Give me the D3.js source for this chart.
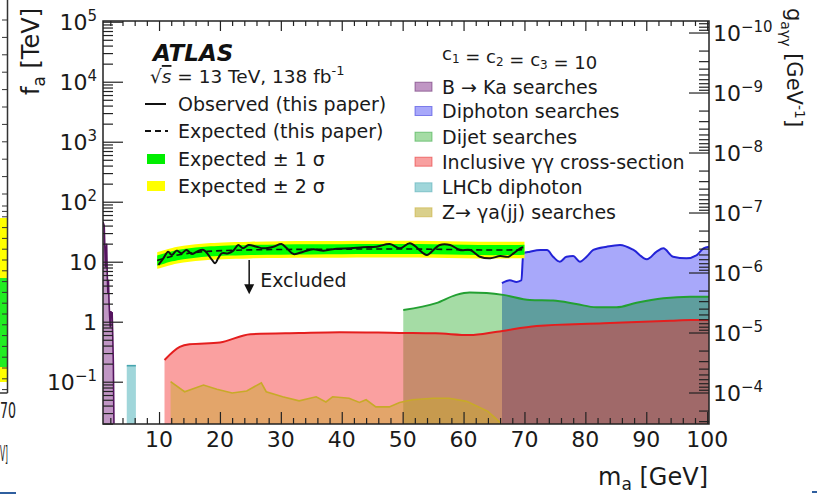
<!DOCTYPE html>
<html><head><meta charset="utf-8">
<script src="https://cdn.jsdelivr.net/npm/d3@7"></script>
<style>
html,body{margin:0;padding:0;background:#fff;}
svg{display:block;}
</style></head><body>
<svg id="chart" width="817" height="495"></svg>
<script>
// ---------------- DATA ----------------
const massRange = [0.8, 100.3];
const faRangeExp = [-1.705, 5.012];
const gTimesFaExp = -5.18;
const massTicks = [10,20,30,40,50,60,70,80,90,100];
const faTickExps = [-1,0,1,2,3,4,5];
const gTickExps = [-10,-9,-8,-7,-6,-5,-4];

// B -> Ka searches
const bkaMass = [0.8,1.0,1.1,1.2,1.3,1.4,1.5,1.6,1.7,1.8,1.9,2.0,2.1,2.2,2.3,2.4,2.5,2.6];
const bkaFa   = [46,40,18,8,14,20,6,3,5,2,1.2,0.8,1.5,1.2,1.45,0.6,0.2,0.02];
// LHCb diphoton
const lhcbMass = [4.7, 6.2];
const lhcbFa   = [0.185, 0.185];
// Inclusive gamma gamma cross-section
const incMass = [10.9,13.4,15.0,20.0,25.0,33.0,39.7,49.5,55.4,61.0,65.5,72.0,83.0,94.0,97.4,100.3];
const incFa   = [0.23,0.38,0.42,0.45,0.62,0.65,0.67,0.65,0.64,0.60,0.68,0.85,0.94,1.04,1.07,1.07];
// Z -> gamma a(jj) searches
const zMass = [11.9,14.2,17.3,19.5,22.0,24.4,26.8,27.6,30.3,33.0,35.8,37.4,38.5,41.2,42.9,44.0,45.6,47.8,49.5,51.6,55.0,57.6,60.5,64.0,66.0];
const zFa   = [0.10,0.068,0.088,0.075,0.065,0.07,0.096,0.068,0.056,0.048,0.056,0.046,0.056,0.053,0.045,0.05,0.038,0.038,0.045,0.05,0.053,0.053,0.047,0.032,0.021];
// Dijet searches
const djMass = [50.1,55.5,58.8,61.0,63.8,66.5,70.9,74.7,78.5,81.8,85.1,88.4,92.8,97.2,100.3];
const djFa   = [1.57,2.04,2.8,3.07,3.0,2.8,2.3,2.25,1.97,1.74,1.74,2.07,2.45,2.6,2.6];
// Diphoton searches
const dpMass = [66.3,67.6,68.7,69.5,69.8,70.9,72.6,73.7,74.7,75.8,76.9,78.0,79.1,80.2,81.3,83.5,85.7,87.9,90.1,91.7,92.8,94.4,96.6,98.3,99.4,100.3];
const dpFa   = [4.4,4.9,4.6,4.9,13.8,14.7,15.7,15.7,12.1,10.0,12.1,12.4,10.0,12.1,15.7,17.8,19.0,15.7,11.0,14.7,16.7,12.1,11.4,12.9,16.7,17.8];
// This paper: expected + bands
const expMass   = [9.7,11,12,14,16,18,20,25,30,35,40,45,50,55,60,65,70];
const expFa     = [10.5,11.5,12.3,13.5,14.3,14.9,15.3,15.8,16.0,16.1,16.2,16.3,16.3,16.2,15.8,15.6,15.8];
const plus1Fa   = [12.7,13.9,14.9,16.3,17.3,18.0,18.5,19.1,19.4,19.5,19.6,19.7,19.7,19.6,19.1,18.9,19.1];
const minus1Fa  = [8.6,9.4,10.1,11.1,11.7,12.2,12.5,13.0,13.1,13.2,13.3,13.4,13.4,13.3,13.0,12.8,13.0];
const plus2Fa   = [14.4,15.8,16.9,18.5,19.6,20.4,21.0,21.6,21.9,22.1,22.2,22.3,22.3,22.2,21.6,21.4,21.6];
const minus2Fa  = [7.6,8.3,8.9,9.7,10.3,10.7,11.0,11.4,11.5,11.6,11.7,11.7,11.7,11.7,11.4,11.2,11.4];
// Observed
const obsMass = [9.9,10.7,11.5,12.1,12.9,13.7,14.5,15.4,16.2,17.3,18.7,19.2,19.7,20.3,21.4,22.2,23.0,23.8,24.7,26.0,27.1,28.8,30.1,31.0,32.1,33.7,35.3,37.0,39.2,41.4,43.5,45.7,47.9,49.6,51.2,53.4,54.0,56.1,57.8,59.4,61.1,62.7,64.4,66.0,67.4,68.2,69.3,69.8];
const obsFa   = [8.8,11.4,14.7,12.9,15.3,13.8,15.7,13.4,14.7,15.7,10.7,9.4,11.4,13.8,13.8,15.3,19.0,16.7,19.0,17.8,16.7,17.8,19.7,16.7,13.4,14.7,16.1,15.3,16.5,16.7,17.4,17.8,19.7,16.7,20.3,13.8,12.9,19.0,19.0,15.7,15.7,12.1,11.4,12.4,12.1,13.8,16.7,17.4];

const legendLeft = ["Observed (this paper)", "Expected (this paper)", "Expected \u00b1 1 \u03c3", "Expected \u00b1 2 \u03c3"];
const legendRight = ["B \u2192 Ka searches","Diphoton searches","Dijet searches","Inclusive \u03b3\u03b3 cross-section","LHCb diphoton","Z\u2192 \u03b3a(jj) searches"];

// ---------------- STYLE ----------------
const FONT = "'DejaVu Sans', Verdana, sans-serif";
const P = {l:103, r:709, t:21, b:424};
const C = {
  bkaFill:"rgb(192,150,196)", bkaLine:"rgb(85,20,95)",
  lhcbFill:"rgb(160,214,218)", lhcbLine:"rgb(70,165,175)",
  dpFill:"rgb(168,168,250)", dpLine:"rgb(35,35,215)",
  djFill:"rgb(165,220,165)", djOverDp:"rgb(95,158,158)", djLine:"rgb(35,160,50)",
  incFill:"rgba(243,39,39,0.44)", incLine:"rgb(228,30,30)",
  zFill:"rgba(200,170,40,0.45)", zLine:"rgb(200,170,40)",
  y2:"#ffff00", y1:"#00ff00"
};

const svg = d3.select("#chart").style("font-family", FONT);

// ---------------- neighbour panel (cropped) ----------------
const nb = svg.append("g");
nb.append("rect").attr("x",0).attr("y",218).attr("width",7).attr("height",164).attr("fill","#ffff00");
nb.append("rect").attr("x",0).attr("y",278).attr("width",7).attr("height",89).attr("fill","#22ee22");
nb.selectAll("line.nt").data(d3.range(0,18)).join("line")
  .attr("x1",2).attr("x2",7.5).attr("y1",d=>206+d*10.8).attr("y2",d=>206+d*10.8)
  .attr("stroke","#333").attr("stroke-width",1);
nb.selectAll("line.nt2").data(d3.range(0,12)).join("line")
  .attr("x1",2).attr("x2",7.5).attr("y1",d=>20+d*17.4).attr("y2",d=>20+d*17.4)
  .attr("stroke","#333").attr("stroke-width",1);
nb.append("line").attr("x1",7.5).attr("x2",7.5).attr("y1",0).attr("y2",393).attr("stroke","#333").attr("stroke-width",1.5);
nb.append("line").attr("x1",0).attr("x2",7.5).attr("y1",393).attr("y2",393).attr("stroke","#333").attr("stroke-width",1.5);
nb.append("text").attr("x",0).attr("y",418).attr("font-size",21).attr("fill","#222")
  .attr("textLength",16).attr("lengthAdjust","spacingAndGlyphs").text("70");
nb.append("text").attr("x",0).attr("y",461).attr("font-size",22).attr("fill","#222")
  .attr("textLength",8).attr("lengthAdjust","spacingAndGlyphs").text("V]");
nb.append("line").attr("x1",0).attr("x2",16).attr("y1",493).attr("y2",493).attr("stroke","#2f5f9f").attr("stroke-width",2);
nb.append("line").attr("x1",812).attr("x2",817).attr("y1",492).attr("y2",492).attr("stroke","#2f5f9f").attr("stroke-width",2);

// ---------------- SCALES ----------------
const faRange = faRangeExp.map(e => Math.pow(10, e));
const gTimesFa = Math.pow(10, gTimesFaExp);
const x = d3.scaleLinear().domain(massRange).range([P.l, P.r]);
const y = d3.scaleLog().domain(faRange).range([P.b, P.t]);
const gs = d3.scaleLog().domain(faRange.map(f => gTimesFa / f)).range([P.b, P.t]);

svg.append("clipPath").attr("id","plotclip").append("rect")
  .attr("x",P.l).attr("y",P.t).attr("width",P.r-P.l).attr("height",P.b-P.t);
svg.append("clipPath").attr("id","noDp").append("rect")
  .attr("x",P.l).attr("y",P.t).attr("width",x(dpMass[0])-P.l).attr("height",P.b-P.t);
svg.append("clipPath").attr("id","inDp").append("rect")
  .attr("x",x(dpMass[0])).attr("y",P.t).attr("width",P.r-x(dpMass[0])).attr("height",P.b-P.t);

const plot = svg.append("g").attr("clip-path","url(#plotclip)");

function areaPath(ms, fs, curve) {
  return d3.area().x((d,i)=>x(ms[i])).y0(P.b).y1((d,i)=>y(fs[i])).curve(curve || d3.curveLinear)(ms);
}
function linePath(ms, fs, curve) {
  return d3.line().x((d,i)=>x(ms[i])).y((d,i)=>y(fs[i])).curve(curve || d3.curveLinear)(ms);
}
function bandPath(ms, lo, hi, curve) {
  return d3.area().x((d,i)=>x(ms[i])).y0((d,i)=>y(lo[i])).y1((d,i)=>y(hi[i])).curve(curve || d3.curveLinear)(ms);
}

// B->Ka
plot.append("path").attr("d", areaPath(bkaMass, bkaFa)).attr("fill", C.bkaFill);
plot.append("path").attr("d", linePath(bkaMass, bkaFa)).attr("fill","none").attr("stroke",C.bkaLine).attr("stroke-width",1.6);
// LHCb
plot.append("path").attr("d", areaPath(lhcbMass, lhcbFa)).attr("fill", C.lhcbFill);
plot.append("path").attr("d", linePath(lhcbMass, lhcbFa)).attr("fill","none").attr("stroke",C.lhcbLine).attr("stroke-width",1.6);
// Diphoton
const smooth = d3.curveMonotoneX;
plot.append("path").attr("d", areaPath(dpMass, dpFa, smooth)).attr("fill", C.dpFill);
// Dijet (colour differs where overlapping diphoton)
plot.append("path").attr("d", areaPath(djMass, djFa, smooth)).attr("fill", C.djFill).attr("clip-path","url(#noDp)");
plot.append("path").attr("d", areaPath(djMass, djFa, smooth)).attr("fill", C.djOverDp).attr("clip-path","url(#inDp)");
// Inclusive
plot.append("path").attr("d", areaPath(incMass, incFa, smooth)).attr("fill", C.incFill);
// Z -> gamma a
plot.append("path").attr("d", areaPath(zMass, zFa)).attr("fill", C.zFill);
// lines
plot.append("path").attr("d", linePath(zMass, zFa)).attr("fill","none").attr("stroke",C.zLine).attr("stroke-width",1.6);
plot.append("path").attr("d", linePath(incMass, incFa, smooth)).attr("fill","none").attr("stroke",C.incLine).attr("stroke-width",2);
plot.append("path").attr("d", linePath(djMass, djFa, smooth)).attr("fill","none").attr("stroke",C.djLine).attr("stroke-width",2);
plot.append("path").attr("d", linePath(dpMass, dpFa, smooth)).attr("fill","none").attr("stroke",C.dpLine).attr("stroke-width",2);

// bands
const bc = d3.curveBasis;
plot.append("path").attr("d", bandPath(expMass, minus2Fa, plus2Fa, bc)).attr("fill", C.y2);
plot.append("path").attr("d", bandPath(expMass, minus1Fa, plus1Fa, bc)).attr("fill", C.y1);
plot.append("path").attr("d", linePath(expMass, expFa, bc)).attr("fill","none").attr("stroke","#111").attr("stroke-width",1.6).attr("stroke-dasharray","6,4");
plot.append("path").attr("d", linePath(obsMass, obsFa, d3.curveCatmullRom.alpha(0.5))).attr("fill","none").attr("stroke","#111").attr("stroke-width",2);

// ---------------- AXES ----------------
const tickCol = "#222";
function styleAxis(sel){ sel.select(".domain").remove(); sel.selectAll(".tick line").attr("stroke",tickCol).attr("stroke-width",1.2); sel.selectAll(".tick text").remove(); }

const isPow10 = v => Math.abs(Math.log10(v) - Math.round(Math.log10(v))) < 1e-6;
const faMajor = faTickExps.map(e => Math.pow(10,e));
const faMinor = y.ticks().filter(v => !isPow10(v));
const gMajor = gTickExps.map(e => Math.pow(10,e));
const gMinor = gs.ticks().filter(v => !isPow10(v));
const mMinor = x.ticks(50).filter(v => massTicks.indexOf(v) < 0);

svg.append("g").attr("transform",`translate(${P.l},0)`).call(d3.axisRight(y).tickValues(faMajor).tickSize(20)).call(styleAxis);
svg.append("g").attr("transform",`translate(${P.l},0)`).call(d3.axisRight(y).tickValues(faMinor).tickSize(10)).call(styleAxis);
svg.append("g").attr("transform",`translate(${P.r},0)`).call(d3.axisLeft(gs).tickValues(gMajor).tickSize(20)).call(styleAxis);
svg.append("g").attr("transform",`translate(${P.r},0)`).call(d3.axisLeft(gs).tickValues(gMinor).tickSize(10)).call(styleAxis);
svg.append("g").attr("transform",`translate(0,${P.b})`).call(d3.axisTop(x).tickValues(massTicks).tickSize(12)).call(styleAxis);
svg.append("g").attr("transform",`translate(0,${P.b})`).call(d3.axisTop(x).tickValues(mMinor).tickSize(6)).call(styleAxis);
svg.append("g").attr("transform",`translate(0,${P.t})`).call(d3.axisBottom(x).tickValues(massTicks).tickSize(10)).call(styleAxis);
svg.append("g").attr("transform",`translate(0,${P.t})`).call(d3.axisBottom(x).tickValues(mMinor).tickSize(5)).call(styleAxis);

svg.append("rect").attr("x",P.l).attr("y",P.t).attr("width",P.r-P.l).attr("height",P.b-P.t)
  .attr("fill","none").attr("stroke","#222").attr("stroke-width",1.5);

// tick labels
const TXT = "#1a1a1a";
function powText(t, e) {
  if (e === 0) { t.text("1"); return; }
  if (e === 1) { t.text("10"); return; }
  t.append("tspan").text("10");
  t.append("tspan").attr("font-size",15).attr("dy",-9).text(String(e).replace("-","\u2212"));
}
faTickExps.forEach(e => {
  const t = svg.append("text").attr("x",P.l-6).attr("y",y(Math.pow(10,e))+8)
    .attr("text-anchor","end").attr("font-size",22).attr("fill",TXT);
  powText(t, e);
});
gTickExps.forEach(e => {
  const t = svg.append("text").attr("x",P.r+4).attr("y",gs(Math.pow(10,e))+8)
    .attr("text-anchor","start").attr("font-size",22).attr("fill",TXT);
  powText(t, e);
});
massTicks.forEach(m => {
  svg.append("text").attr("x",x(m)).attr("y",P.b+23).attr("text-anchor","middle")
    .attr("font-size",22).attr("fill",TXT).text(m);
});

// axis titles
const xt = svg.append("text").attr("x",P.r-1).attr("y",485).attr("text-anchor","end").attr("font-size",24).attr("fill",TXT);
xt.append("tspan").text("m");
xt.append("tspan").attr("font-size",17).attr("dy",5).text("a");
xt.append("tspan").attr("dy",-5).text(" [GeV]");

const yt = svg.append("text").attr("transform","translate(39,8) rotate(-90)").attr("text-anchor","end").attr("font-size",24).attr("fill",TXT);
yt.append("tspan").text("f");
yt.append("tspan").attr("font-size",17).attr("dy",6).text("a");
yt.append("tspan").attr("dy",-6).text(" [TeV]");

const gt = svg.append("text").attr("transform","translate(787,8) rotate(90)").attr("text-anchor","start").attr("font-size",21).attr("fill",TXT);
gt.append("tspan").text("g");
gt.append("tspan").attr("font-size",14).attr("dy",6).text("a\u03b3\u03b3");
gt.append("tspan").attr("dy",-6).text(" [GeV");
gt.append("tspan").attr("font-size",14).attr("dy",-8).text("-1");
gt.append("tspan").attr("dy",8).text("]");

// ---------------- LEGEND ----------------
svg.append("text").attr("x",153).attr("y",61).attr("font-size",23).attr("font-weight","bold").attr("font-style","italic").attr("fill","#111").text("ATLAS");
const rs = svg.append("text").attr("x",150).attr("y",83).attr("font-size",18.5).attr("fill",TXT);
rs.append("tspan").text("\u221a");
rs.append("tspan").attr("font-style","italic").attr("text-decoration","overline").text("s");
rs.append("tspan").text(" = 13 TeV, 138 fb");
rs.append("tspan").attr("font-size",13).attr("dy",-8).text("-1");

const leftRows = [104,131,159,186];
legendLeft.forEach((s,i) => {
  svg.append("text").attr("x",178).attr("y",leftRows[i]+7).attr("font-size",19).attr("fill",TXT).text(s);
});
svg.append("line").attr("x1",145).attr("x2",166).attr("y1",leftRows[0]).attr("y2",leftRows[0]).attr("stroke","#111").attr("stroke-width",2);
svg.append("line").attr("x1",145).attr("x2",168).attr("y1",leftRows[1]).attr("y2",leftRows[1]).attr("stroke","#111").attr("stroke-width",2).attr("stroke-dasharray","6,4");
svg.append("rect").attr("x",147).attr("y",leftRows[2]-5).attr("width",18).attr("height",10).attr("fill","#00ee00");
svg.append("rect").attr("x",147).attr("y",leftRows[3]-5).attr("width",18).attr("height",10).attr("fill","#ffff00");

const ct = svg.append("text").attr("x",442).attr("y",60).attr("font-size",18).attr("fill",TXT);
[["c","1"],[" = c","2"],[" = c","3"]].forEach(p => {
  ct.append("tspan").text(p[0]);
  ct.append("tspan").attr("font-size",12).attr("dy",3).text(p[1]);
  ct.append("tspan").attr("dy",-3).text("");
});
ct.append("tspan").text(" = 10");

const rightRows = [86.7,111,136.7,161.7,187.3,212.3];
const swFill = [C.bkaFill, C.dpFill, C.djFill, "rgb(248,160,160)", C.lhcbFill, "rgb(218,208,140)"];
const swLine = [C.bkaLine, C.dpLine, C.djLine, C.incLine, C.lhcbLine, C.zLine];
legendRight.forEach((s,i) => {
  svg.append("rect").attr("x",415).attr("y",rightRows[i]-4.5).attr("width",17).attr("height",9)
    .attr("fill",swFill[i]).attr("stroke",swLine[i]).attr("stroke-opacity",0.5).attr("stroke-width",1);
  svg.append("text").attr("x",442).attr("y",rightRows[i]+7).attr("font-size",19).attr("fill",TXT).text(s);
});

// Excluded annotation (data coords)
const exM = 24.8;
svg.append("line").attr("x1",x(exM)).attr("x2",x(exM)).attr("y1",y(10.7)).attr("y2",y(3.9))
  .attr("stroke","#111").attr("stroke-width",1.5);
svg.append("path").attr("d", `M${x(exM)-5},${y(3.9)-2} L${x(exM)+5},${y(3.9)-2} L${x(exM)},${y(3.9)+8} Z`).attr("fill","#111");
svg.append("text").attr("x",x(26.6)).attr("y",y(3.79)).attr("font-size",19).attr("fill",TXT).text("Excluded");
</script>
</body></html>
